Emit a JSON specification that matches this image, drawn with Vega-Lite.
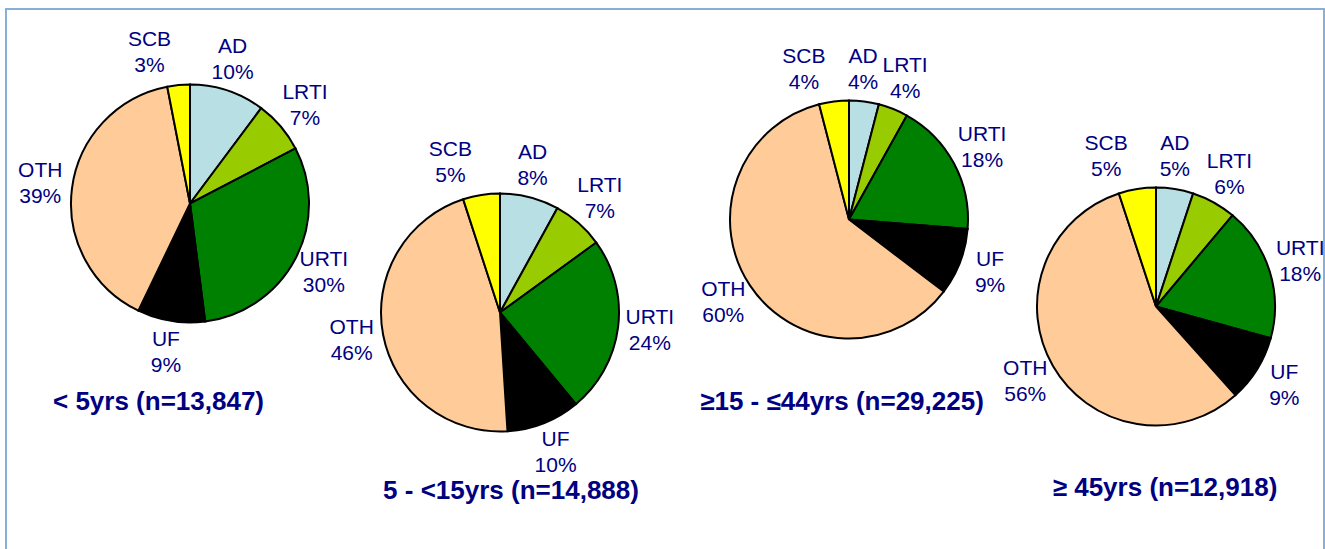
{
  "$schema": "https://vega.github.io/schema/vega-lite/v6.json",
  "width": 1325,
  "height": 549,
  "autosize": {"type": "fit", "contains": "padding"},
  "padding": {"left": 6, "top": 9, "right": 1, "bottom": -4},
  "background": "white",
  "config": {
    "view": {"stroke": "#86AFD9", "strokeWidth": 2},
    "text": {"font": "Liberation Sans", "color": "#000080", "baseline": "middle", "align": "center"}
  },
  "datasets": {
    "slices": [
      {"group": "g1", "cat": "AD", "k": 1, "pct": 0.10},
      {"group": "g1", "cat": "LRTI", "k": 2, "pct": 0.07},
      {"group": "g1", "cat": "URTI", "k": 3, "pct": 0.30},
      {"group": "g1", "cat": "UF", "k": 4, "pct": 0.09},
      {"group": "g1", "cat": "OTH", "k": 5, "pct": 0.39},
      {"group": "g1", "cat": "SCB", "k": 6, "pct": 0.03},
      {"group": "g2", "cat": "AD", "k": 1, "pct": 0.08},
      {"group": "g2", "cat": "LRTI", "k": 2, "pct": 0.07},
      {"group": "g2", "cat": "URTI", "k": 3, "pct": 0.24},
      {"group": "g2", "cat": "UF", "k": 4, "pct": 0.10},
      {"group": "g2", "cat": "OTH", "k": 5, "pct": 0.46},
      {"group": "g2", "cat": "SCB", "k": 6, "pct": 0.05},
      {"group": "g3", "cat": "AD", "k": 1, "pct": 0.04},
      {"group": "g3", "cat": "LRTI", "k": 2, "pct": 0.04},
      {"group": "g3", "cat": "URTI", "k": 3, "pct": 0.18},
      {"group": "g3", "cat": "UF", "k": 4, "pct": 0.09},
      {"group": "g3", "cat": "OTH", "k": 5, "pct": 0.60},
      {"group": "g3", "cat": "SCB", "k": 6, "pct": 0.04},
      {"group": "g4", "cat": "AD", "k": 1, "pct": 0.05},
      {"group": "g4", "cat": "LRTI", "k": 2, "pct": 0.06},
      {"group": "g4", "cat": "URTI", "k": 3, "pct": 0.18},
      {"group": "g4", "cat": "UF", "k": 4, "pct": 0.09},
      {"group": "g4", "cat": "OTH", "k": 5, "pct": 0.56},
      {"group": "g4", "cat": "SCB", "k": 6, "pct": 0.05}
    ],
    "groups": [
      {"group": "g1", "title": "< 5yrs (n=13,847)"},
      {"group": "g2", "title": "5 - <15yrs (n=14,888)"},
      {"group": "g3", "title": "≥15 - ≤44yrs (n=29,225)"},
      {"group": "g4", "title": "≥ 45yrs (n=12,918)"}
    ]
  },
  "data": {"name": "slices"},
  "encoding": {
    "x": {"field": "group", "type": "nominal", "scale": {"type": "point", "padding": 0, "domain": ["g1", "g2", "g3", "g4"], "range": [184, 1150]}, "axis": null}
  },
  "layer": [
    {
      "transform": [{"filter": "datum.group === 'g1'"}],
      "encoding": {
        "theta": {"field": "pct", "type": "quantitative", "stack": "normalize"},
        "order": {"field": "k", "type": "quantitative"}
      },
      "layer": [
        {"mark": {"type": "arc", "outerRadius": 119, "stroke": "#000000", "strokeWidth": 2, "xOffset": 0, "yOffset": -77.5},
         "encoding": {"color": {"field": "cat", "type": "nominal", "legend": null, "scale": {"domain": ["AD", "LRTI", "URTI", "UF", "OTH", "SCB"], "range": ["#B8DFE3", "#99CC00", "#008000", "#000000", "#FFCC99", "#FFFF00"]}}}},
        {"mark": {"type": "text", "radius": 151, "dy": -13, "dx": {"expr": "datum.cat === 'SCB' ? -26 : datum.cat === 'AD' ? -5 : 0"}, "fontSize": 21, "xOffset": 0, "yOffset": -77.5}, "encoding": {"text": {"field": "cat"}}},
        {"mark": {"type": "text", "radius": 151, "dy": 13, "dx": {"expr": "datum.cat === 'SCB' ? -26 : datum.cat === 'AD' ? -5 : 0"}, "fontSize": 21, "xOffset": 0, "yOffset": -77.5}, "encoding": {"text": {"field": "pct", "format": ".0%"}}}
      ]
    },
    {
      "transform": [{"filter": "datum.group === 'g2'"}],
      "encoding": {
        "theta": {"field": "pct", "type": "quantitative", "stack": "normalize"},
        "order": {"field": "k", "type": "quantitative"}
      },
      "layer": [
        {"mark": {"type": "arc", "outerRadius": 119, "stroke": "#000000", "strokeWidth": 2, "xOffset": -12, "yOffset": 31.5},
         "encoding": {"color": {"field": "cat", "type": "nominal", "legend": null}}},
        {"mark": {"type": "text", "radius": 151, "dy": -13, "dx": {"expr": "datum.cat === 'SCB' ? -26 : datum.cat === 'AD' ? -5 : 0"}, "fontSize": 21, "xOffset": -12, "yOffset": 31.5}, "encoding": {"text": {"field": "cat"}}},
        {"mark": {"type": "text", "radius": 151, "dy": 13, "dx": {"expr": "datum.cat === 'SCB' ? -26 : datum.cat === 'AD' ? -5 : 0"}, "fontSize": 21, "xOffset": -12, "yOffset": 31.5}, "encoding": {"text": {"field": "pct", "format": ".0%"}}}
      ]
    },
    {
      "transform": [{"filter": "datum.group === 'g3'"}],
      "encoding": {
        "theta": {"field": "pct", "type": "quantitative", "stack": "normalize"},
        "order": {"field": "k", "type": "quantitative"}
      },
      "layer": [
        {"mark": {"type": "arc", "outerRadius": 119, "stroke": "#000000", "strokeWidth": 2, "xOffset": 15, "yOffset": -61.5},
         "encoding": {"color": {"field": "cat", "type": "nominal", "legend": null}}},
        {"mark": {"type": "text", "radius": 151, "dy": -13, "dx": {"expr": "datum.cat === 'SCB' ? -26 : datum.cat === 'AD' ? -5 : 0"}, "fontSize": 21, "xOffset": 15, "yOffset": -61.5}, "encoding": {"text": {"field": "cat"}}},
        {"mark": {"type": "text", "radius": 151, "dy": 13, "dx": {"expr": "datum.cat === 'SCB' ? -26 : datum.cat === 'AD' ? -5 : 0"}, "fontSize": 21, "xOffset": 15, "yOffset": -61.5}, "encoding": {"text": {"field": "pct", "format": ".0%"}}}
      ]
    },
    {
      "transform": [{"filter": "datum.group === 'g4'"}],
      "encoding": {
        "theta": {"field": "pct", "type": "quantitative", "stack": "normalize"},
        "order": {"field": "k", "type": "quantitative"}
      },
      "layer": [
        {"mark": {"type": "arc", "outerRadius": 119, "stroke": "#000000", "strokeWidth": 2, "xOffset": 0, "yOffset": 25.5},
         "encoding": {"color": {"field": "cat", "type": "nominal", "legend": null}}},
        {"mark": {"type": "text", "radius": 151, "dy": -13, "dx": {"expr": "datum.cat === 'SCB' ? -26 : datum.cat === 'AD' ? -5 : 0"}, "fontSize": 21, "xOffset": 0, "yOffset": 25.5}, "encoding": {"text": {"field": "cat"}}},
        {"mark": {"type": "text", "radius": 151, "dy": 13, "dx": {"expr": "datum.cat === 'SCB' ? -26 : datum.cat === 'AD' ? -5 : 0"}, "fontSize": 21, "xOffset": 0, "yOffset": 25.5}, "encoding": {"text": {"field": "pct", "format": ".0%"}}}
      ]
    },
    {
      "data": {"name": "groups"},
      "transform": [{"filter": "datum.group === 'g1'"}],
      "mark": {"type": "text", "fontSize": 26, "fontWeight": "bold", "xOffset": -31.5, "yOffset": 120.5},
      "encoding": {"text": {"field": "title"}}
    },
    {
      "data": {"name": "groups"},
      "transform": [{"filter": "datum.group === 'g2'"}],
      "mark": {"type": "text", "fontSize": 26, "fontWeight": "bold", "xOffset": -1, "yOffset": 209.5},
      "encoding": {"text": {"field": "title"}}
    },
    {
      "data": {"name": "groups"},
      "transform": [{"filter": "datum.group === 'g3'"}],
      "mark": {"type": "text", "fontSize": 26, "fontWeight": "bold", "xOffset": 8, "yOffset": 120.5},
      "encoding": {"text": {"field": "title"}}
    },
    {
      "data": {"name": "groups"},
      "transform": [{"filter": "datum.group === 'g4'"}],
      "mark": {"type": "text", "fontSize": 26, "fontWeight": "bold", "xOffset": 9, "yOffset": 206.5},
      "encoding": {"text": {"field": "title"}}
    }
  ]
}
